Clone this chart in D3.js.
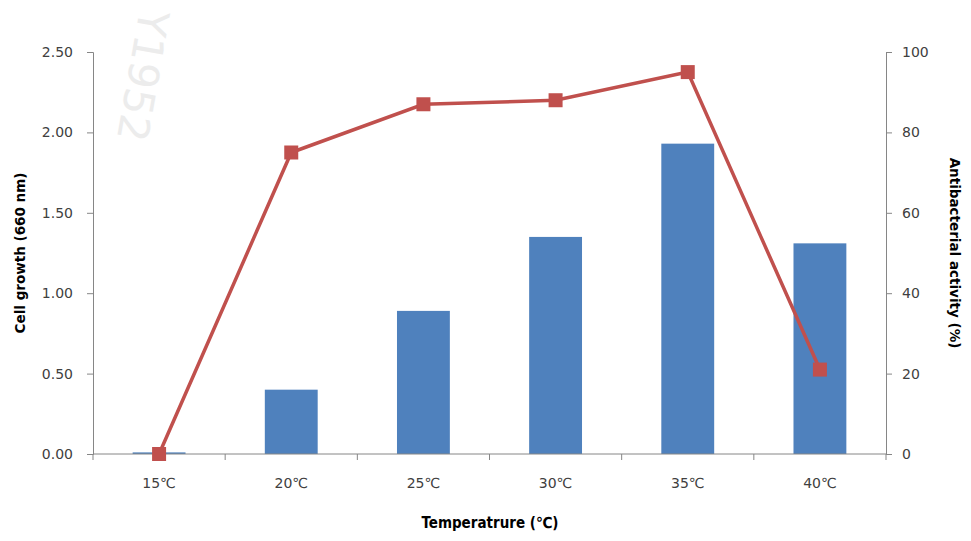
<!DOCTYPE html>
<html><head><meta charset="utf-8">
<script src="https://cdn.jsdelivr.net/npm/d3@7/dist/d3.min.js"></script>
<style>body{margin:0;background:#fff}svg{display:block}</style>
</head><body><svg id="c" width="971" height="541"></svg>
<script>
const categories = ["15℃","20℃","25℃","30℃","35℃","40℃"];
const cellGrowth = [0.01, 0.40, 0.89, 1.35, 1.93, 1.31];
const antibacterial = [0, 75, 87, 88, 95, 21];
const leftTicks = [0, 0.5, 1.0, 1.5, 2.0, 2.5];
const rightTicks = [0, 20, 40, 60, 80, 100];

const svg = d3.select("#c");
const m = {l: 93, r: 886, t: 52, b: 454};
const font = "'DejaVu Sans', Verdana, sans-serif";

// watermark
svg.append("text").attr("transform","translate(140,8) rotate(100)")
  .attr("font-family",font).attr("font-size",42).attr("fill","#ececec").text("Y1952");

const x = d3.scaleBand().domain(categories).range([m.l, m.r]).paddingInner(0.6).paddingOuter(0.3);
const xb = d3.scaleBand().domain(categories).range([m.l, m.r]);
const yL = d3.scaleLinear().domain([0, 2.5]).range([m.b, m.t]);
const yR = d3.scaleLinear().domain([0, 100]).range([m.b, m.t]);

// bars
svg.append("g").selectAll("rect").data(categories).join("rect")
  .attr("x", d => x(d)).attr("width", x.bandwidth())
  .attr("y", (d,i) => yL(cellGrowth[i])).attr("height", (d,i) => m.b - yL(cellGrowth[i]))
  .attr("fill", "#4F81BD");

const axisColor = "#868686";
function styleAxis(g){
  g.selectAll(".domain").attr("stroke", axisColor);
  g.selectAll(".tick line").attr("stroke", axisColor);
  g.selectAll("text").attr("fill","#404040").attr("font-family",font).attr("font-size",14);
}

// left axis
const gl = svg.append("g").attr("transform",`translate(${m.l},0)`)
  .call(d3.axisLeft(yL).tickValues(leftTicks).tickFormat(d3.format(".2f")).tickSize(6).tickSizeOuter(6).tickPadding(14));
styleAxis(gl);
// right axis
const gr = svg.append("g").attr("transform",`translate(${m.r},0)`)
  .call(d3.axisRight(yR).tickValues(rightTicks).tickSize(6).tickSizeOuter(6).tickPadding(10));
styleAxis(gr);
// x axis: boundary ticks
const gx = svg.append("g").attr("transform",`translate(0,${m.b})`);
gx.append("line").attr("x1",m.l).attr("x2",m.r).attr("stroke",axisColor);
const bounds = categories.map(c => xb(c)).concat([m.r]);
gx.selectAll("line.t").data(bounds).join("line").attr("class","t")
  .attr("x1",d=>d).attr("x2",d=>d).attr("y1",0).attr("y2",6).attr("stroke",axisColor);
gx.selectAll("text").data(categories).join("text")
  .attr("x", d => xb(d) + xb.bandwidth()/2).attr("y", 34)
  .attr("text-anchor","middle").attr("font-family",font).attr("font-size",14).attr("fill","#404040")
  .text(d => d);

// line
const lx = (d,i) => xb(categories[i]) + xb.bandwidth()/2;
svg.append("path").datum(antibacterial)
  .attr("d", d3.line().x(lx).y(d => yR(d)))
  .attr("fill","none").attr("stroke","#C0504D").attr("stroke-width",3.5);
svg.append("g").selectAll("rect").data(antibacterial).join("rect")
  .attr("x",(d,i)=>lx(d,i)-7).attr("y",d=>yR(d)-7).attr("width",14).attr("height",14)
  .attr("fill","#C0504D");

// axis titles
svg.append("text").attr("transform",`translate(25,253) rotate(-90)`)
  .attr("text-anchor","middle").attr("font-family",font).attr("font-size",13.5).attr("font-weight","bold")
  .attr("fill","#000").text("Cell growth (660 nm)");
svg.append("text").attr("transform",`translate(950,253) rotate(90)`)
  .attr("text-anchor","middle").attr("font-family",font).attr("font-size",13.5).attr("font-weight","bold")
  .attr("fill","#000").text("Antibacterial activity (%)");
svg.append("text").attr("x",490).attr("y",528)
  .attr("text-anchor","middle").attr("font-family","'DejaVu Sans Condensed', "+font).attr("font-size",15)
  .attr("font-weight",600).attr("fill","#000").text("Temperatrure (℃)");
</script></body></html>
